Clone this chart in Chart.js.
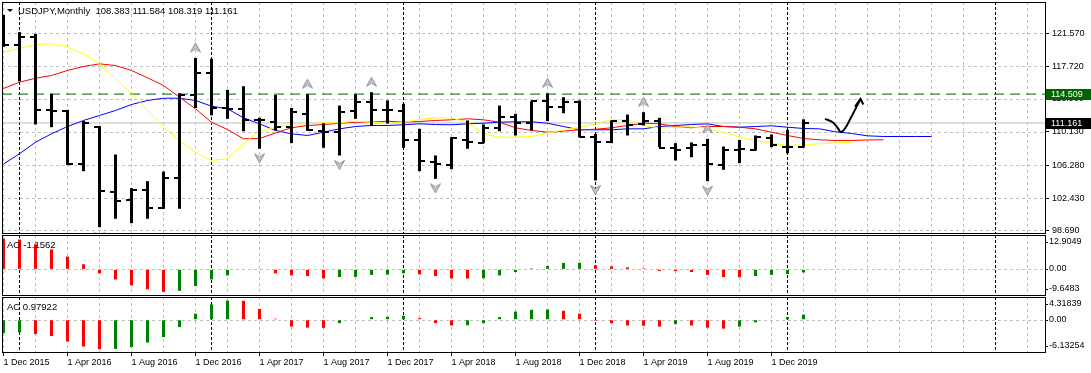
<!DOCTYPE html>
<html>
<head>
<meta charset="utf-8">
<title>USDJPY, Monthly</title>
<script src="https://cdn.jsdelivr.net/npm/chart.js@4.4.1/dist/chart.umd.min.js"></script>
<style>
  body { margin: 0; background: #fff; }
  #wrap { position: relative; width: 1091px; height: 373px; overflow: hidden; }
  canvas { position: absolute; left: 0; }
</style>
</head>
<body>
<div id="wrap">
  <canvas id="main" width="1091" height="234" style="top:0px"></canvas>
  <canvas id="ao" width="1091" height="62" style="top:234px"></canvas>
  <canvas id="ac" width="1091" height="77" style="top:296px"></canvas>
</div>
<script>
// monthly bars, index 0 = Dec 2015 ... 50 = Feb 2020
const opens = [123.08, 120.22, 121.13, 112.68, 112.57, 106.45, 110.75, 103.13, 102.25, 103.33,
  101.30, 104.80, 114.43, 116.98, 112.90, 112.80, 111.56, 111.25, 110.75, 112.20,
  110.20, 110.09, 112.60, 113.57, 112.61, 112.53, 109.20, 106.61, 106.23, 109.24,
  108.82, 110.60, 111.83, 111.13, 113.68, 112.99, 113.57, 109.59, 108.93, 111.37,
  111.00, 111.37, 108.28, 108.28, 108.66, 106.23, 108.05, 108.05, 109.44, 108.43, 108.383]
const highs = [123.69, 121.69, 121.49, 114.55, 112.68, 111.40, 110.80, 107.50, 103.60, 104.41,
  105.53, 114.60, 118.70, 118.60, 115.00, 115.42, 111.76, 114.40, 112.90, 114.50,
  111.13, 113.18, 114.50, 114.73, 113.77, 113.38, 110.48, 107.39, 109.51, 111.45,
  110.98, 113.18, 112.22, 113.68, 114.60, 114.15, 113.77, 109.90, 111.45, 112.13,
  112.41, 111.76, 108.82, 108.90, 109.32, 108.43, 109.20, 109.71, 109.82, 110.37, 111.584]
const lows = [119.99, 115.98, 110.99, 110.67, 106.30, 105.57, 99.07, 100.05, 99.54, 100.05,
  101.21, 101.21, 112.90, 112.05, 111.64, 110.20, 108.17, 110.29, 108.82, 110.25,
  108.28, 107.39, 111.64, 110.80, 111.10, 108.28, 105.57, 104.68, 105.80, 108.17,
  108.82, 110.20, 109.71, 110.29, 111.37, 112.29, 109.51, 104.49, 108.82, 109.71,
  110.87, 108.35, 106.81, 107.19, 104.41, 105.73, 106.50, 107.97, 108.35, 107.65, 108.319]
const closes = [120.22, 121.13, 112.68, 112.57, 106.45, 111.20, 103.25, 102.09, 103.41, 101.32,
  104.80, 114.40, 116.98, 112.90, 112.80, 111.50, 111.45, 110.75, 112.41, 110.30,
  110.09, 112.45, 113.57, 112.61, 112.61, 109.24, 106.73, 106.35, 109.44, 109.00,
  110.60, 111.91, 111.13, 113.68, 112.99, 113.57, 109.59, 108.93, 111.37, 110.87,
  111.37, 108.30, 108.05, 108.66, 106.35, 108.05, 108.17, 109.59, 108.55, 108.43, 111.161]

// Alligator: jaw (blue), teeth (red), lips (yellow), shifted forward past the last bar
const jaw = [106.40, 107.59, 108.93, 109.90, 110.75, 111.45, 112.03, 112.61, 113.30, 113.77,
  114.03, 114.03, 113.77, 113.11, 112.80, 111.76, 111.06, 110.29, 109.90, 109.71,
  110.09, 110.48, 110.75, 110.87, 110.87, 110.95, 111.06, 110.98, 110.95, 111.06,
  111.13, 111.25, 111.30, 111.30, 111.13, 110.75, 110.37, 110.37, 110.37, 110.48,
  110.48, 110.75, 110.87, 110.98, 111.06, 110.75, 110.67, 110.75, 110.83, 110.67,
  110.52, 110.48, 110.14, 109.94, 109.67, 109.59, 109.59, 109.59, 109.59]
const teeth = [115.16, 115.89, 116.35, 116.67, 117.25, 117.71, 118.02, 117.82, 117.25, 116.40,
  115.51, 114.15, 112.80, 111.25, 110.40, 109.33, 109.36, 110.00, 110.60, 110.87,
  110.98, 111.13, 111.25, 111.25, 111.37, 111.25, 111.33, 111.45, 111.53, 111.64,
  111.53, 111.25, 110.60, 110.29, 110.09, 110.21, 110.37, 110.43, 110.60, 110.87,
  111.13, 111.06, 110.75, 110.60, 110.75, 110.75, 110.67, 110.48, 110.09, 109.71,
  109.36, 109.21, 109.13, 109.13, 109.19, 109.21]
const lips = [119.37, 119.80, 120.26, 120.34, 119.95, 119.18, 118.02, 116.32, 114.54, 112.61,
  110.67, 109.13, 107.77, 106.81, 107.01, 108.78, 110.21, 110.64, 111.06, 111.06,
  111.18, 111.18, 111.37, 111.22, 111.13, 111.22, 111.56, 111.76, 111.76, 111.22,
  109.90, 109.51, 109.51, 109.59, 110.00, 110.35, 110.64, 111.06, 111.53, 111.53,
  110.87, 110.55, 110.67, 110.72, 110.54, 110.06, 109.53, 109.13, 108.84, 108.55,
  108.63, 108.75, 108.84, 108.93]

// fractals (bar indices)
const upFractals = [12, 19, 23, 34, 40, 44]
const downFractals = [6, 16, 21, 27, 37, 44]

// Awesome Oscillator and Accelerator/Decelerator
const ao = [11.6, 11.2, 9.4, 7.5, 4.8, 1.9, -1.5, -3.8, -6.0, -7.5,
  -8.5, -8.1, -6.3, -3.8, -2.3, 0.2, 0.25, -1.5, -2.3, -2.5,
  -3.4, -2.9, -2.85, -2.1, -2.0, -1.5, -1.9, -2.5, -3.4, -3.45,
  -3.35, -2.3, -1.0, 0.35, 1.25, 2.4, 2.45, 1.5, 1.1, 0.75,
  0.35, -0.6, -0.65, -1.0, -2.1, -2.9, -2.95, -2.5, -2.1, -1.75, -1.1562]
const ac = [-2.55, -2.4, -2.7, -3.1, -4.15, -5.1, -5.6, -5.55, -5.2, -4.35,
  -3.3, -1.4, 1.15, 2.9, 3.65, 3.6, 2.05, 0.2, -1.3, -1.5,
  -1.55, -0.65, -0.1, 0.5, 0.55, 0.75, 0.3, -0.65, -1.1, -1.05,
  -0.65, 0.5, 1.55, 1.9, 1.95, 1.7, 1.15, -0.2, -0.65, -1.1,
  -1.15, -1.3, -0.85, -1.1, -1.5, -1.7, -1.3, -0.5, 0.1, 0.5, 0.97922]

// hand drawn arrow (month index, price)
const sketchX = [51.34, 51.84, 52.16, 52.34, 52.59, 52.97, 53.56]
const sketchY = [111.64, 111.22, 110.52, 110.11, 110.52, 111.79, 113.94]
const headX = [53.22, 53.56, 53.74]
const headY = [113.07, 113.94, 113.30]

// axes
const dateLabels = ['1 Dec 2015', '1 Apr 2016', '1 Aug 2016', '1 Dec 2016', '1 Apr 2017', '1 Aug 2017',
  '1 Dec 2017', '1 Apr 2018', '1 Aug 2018', '1 Dec 2018', '1 Apr 2019', '1 Aug 2019', '1 Dec 2019']
const priceTicks = [121.570, 117.720, 113.980, 110.130, 106.280, 102.430, 98.690]
const aoTicks = [12.9049, 0, -9.6483]
const acTicks = [4.31839, 0, -6.13254]
const separators = [1, 13, 25, 37, 49, 62]
const resistance = 114.509
const bid = 111.161

const xMin = -0.09375, xMax = 65.09375
const last = opens.length - 1
const months = opens.map((_, i) => i)

Chart.defaults.font.family = '"Liberation Sans", Arial, sans-serif'
Chart.defaults.font.size = 9
Chart.defaults.color = '#000'
const FONT = '"Liberation Sans", Arial, sans-serif'

// little glyphs used as point styles
function glyph(w, h, draw) {
  const c = document.createElement('canvas')
  c.width = w; c.height = h
  draw(c.getContext('2d'))
  return c
}
const openGlyph = glyph(11, 2, g => { g.fillStyle = '#000'; g.fillRect(0, 0, 6, 2) })
const closeGlyph = glyph(11, 2, g => { g.fillStyle = '#000'; g.fillRect(5, 0, 6, 2) })
function arrow(g, up) {
  g.translate(0.5, up ? 0.5 : 20.5)
  g.beginPath()
  if (up) { g.moveTo(5, 0); g.lineTo(10, 9); g.lineTo(5, 6); g.lineTo(0, 9) }
  else { g.moveTo(5, 9); g.lineTo(10, 0); g.lineTo(5, 3); g.lineTo(0, 0) }
  g.closePath()
  g.fillStyle = '#c4c6ce'; g.fill()
  g.strokeStyle = '#8c8e98'; g.lineWidth = 1; g.stroke()
}
const upGlyph = glyph(11, 31, g => arrow(g, true))
const downGlyph = glyph(11, 31, g => arrow(g, false))

const labelFor = v => (v % 4 === 0 && v / 4 < dateLabels.length) ? dateLabels[v / 4] : ''

function timeAxis(withLabels) {
  return {
    type: 'linear', min: xMin, max: xMax, offset: false,
    afterBuildTicks: s => { s.ticks = []; for (let i = 0; i <= 64; i += 2) s.ticks.push({ value: i }) },
    afterFit: s => { s.height = withLabels ? 21 : 0; s.paddingLeft = 0; s.paddingRight = 0 },
    grid: {
      drawOnChartArea: false, offset: false, drawTicks: withLabels, tickLength: 4, tickBorderDash: [],
      tickColor: c => (c.tick && labelFor(c.tick.value)) ? '#000' : 'rgba(0,0,0,0)'
    },
    border: { display: false },
    ticks: {
      display: withLabels, autoSkip: false, maxRotation: 0, minRotation: 0, align: 'start',
      padding: 1, color: '#000', font: { size: 9 }, callback: v => labelFor(v)
    }
  }
}

// dashed grid, year separators and pane frame
const frame = {
  id: 'frame',
  beforeDatasetsDraw(chart) {
    const { ctx, chartArea: a, scales: { x, y } } = chart
    const line = (x1, y1, x2, y2) => { ctx.beginPath(); ctx.moveTo(x1, y1); ctx.lineTo(x2, y2); ctx.stroke() }
    ctx.save()
    ctx.lineWidth = 1
    ctx.strokeStyle = '#c0c0c0'
    ctx.setLineDash([3, 3])
    x.ticks.forEach(t => {
      if (separators.includes(t.value)) return
      const px = Math.floor(x.getPixelForValue(t.value)) + 0.5
      line(px, a.top, px, a.bottom)
    })
    y.ticks.forEach(t => {
      const py = Math.round(y.getPixelForValue(t.value)) + 0.5
      line(a.left, py, a.right, py)
    })
    ctx.strokeStyle = '#000'
    ctx.setLineDash([3, 2])
    separators.forEach(i => {
      const px = Math.floor(x.getPixelForValue(i)) + 0.5
      line(px, a.top, px, a.bottom)
    })
    ctx.restore()
  },
  afterDraw(chart) {
    const { ctx, chartArea: a } = chart
    ctx.save()
    ctx.strokeStyle = '#000'
    ctx.lineWidth = 1
    ctx.strokeRect(a.left + 0.5, a.top + 0.5, a.right - a.left, a.bottom - a.top)
    ctx.restore()
  }
}

const mainText = {
  id: 'mainText',
  afterDraw(chart) {
    const { ctx, chartArea: a, scales: { y } } = chart
    ctx.save()
    ctx.fillStyle = '#000'
    ctx.beginPath(); ctx.moveTo(7, 9); ctx.lineTo(13, 9); ctx.lineTo(10, 12); ctx.closePath(); ctx.fill()
    ctx.font = '9.5px ' + FONT
    ctx.textBaseline = 'middle'
    ctx.fillText('USDJPY,Monthly  ' + [opens[last], highs[last], lows[last], closes[last]].map(v => v.toFixed(3)).join(' '), 18, 11)
    // price tags on the axis
    ctx.font = '9px ' + FONT
    ;[[resistance, '#006400'], [bid, '#000']].forEach(([v, col]) => {
      const py = Math.round(y.getPixelForValue(v))
      ctx.fillStyle = col
      ctx.fillRect(a.right + 1, py - 5, 46, 11)
      ctx.fillStyle = '#fff'
      ctx.fillText(v.toFixed(3), a.right + 6, py + 0.5)
    })
    ctx.restore()
  }
}

function paneText(name, axisTicks) {
  return {
    id: 'paneText',
    afterDraw(chart) {
      const { ctx, chartArea: a, scales: { y } } = chart
      ctx.save()
      ctx.fillStyle = '#000'
      ctx.strokeStyle = '#000'
      ctx.lineWidth = 1
      ctx.textBaseline = 'middle'
      ctx.font = '9px ' + FONT
      axisTicks.forEach(v => {
        const py = Math.round(Math.min(Math.max(y.getPixelForValue(v), a.top + 7), a.bottom - 6))
        ctx.fillText(v === 0 ? '0.00' : String(v), a.right + 4, py)
        ctx.beginPath(); ctx.moveTo(a.right, py + 0.5); ctx.lineTo(a.right + 3, py + 0.5); ctx.stroke()
      })
      ctx.font = '9.5px ' + FONT
      ctx.fillText(name, a.left + 5, a.top + 10)
      ctx.restore()
    }
  }
}

const common = {
  responsive: false, animation: false, events: [], devicePixelRatio: 1,
  plugins: { legend: { display: false }, tooltip: { enabled: false } }
}

const pts = (xs, ys) => xs.map((x, i) => ({ x, y: ys[i] }))
const series = vals => vals.map((v, i) => ({ x: i, y: v }))

new Chart(document.getElementById('main'), {
  type: 'scatter',
  data: {
    datasets: [
      { type: 'line', data: [{ x: xMin, y: bid }, { x: xMax, y: bid }], borderColor: '#c0c0c0', borderWidth: 1, pointRadius: 0, order: 10 },
      { type: 'line', data: [{ x: xMin, y: resistance }, { x: xMax, y: resistance }], borderColor: '#006400', borderWidth: 1, borderDash: [10, 6], pointRadius: 0, order: 9 },
      { type: 'line', data: series(jaw), borderColor: '#0000ff', borderWidth: 1, pointRadius: 0, order: 6 },
      { type: 'line', data: series(teeth), borderColor: '#ff0000', borderWidth: 1, pointRadius: 0, order: 5 },
      { type: 'line', data: series(lips), borderColor: '#ffff00', borderWidth: 1, pointRadius: 0, order: 4 },
      { type: 'bar', data: months.map(i => ({ x: i, y: [lows[i], highs[i]] })), backgroundColor: '#000', borderWidth: 0, barThickness: 3, inflateAmount: 0, order: 1 },
      { data: series(opens), pointStyle: openGlyph, pointRadius: 3, order: 0 },
      { data: series(closes), pointStyle: closeGlyph, pointRadius: 3, order: 0 },
      { data: upFractals.map(i => ({ x: i, y: highs[i] })), pointStyle: upGlyph, pointRadius: 5, order: 2 },
      { data: downFractals.map(i => ({ x: i, y: lows[i] })), pointStyle: downGlyph, pointRadius: 5, order: 2 },
      { type: 'line', data: pts(sketchX, sketchY), borderColor: '#000', borderWidth: 2, tension: 0.4, pointRadius: 0, order: 0 },
      { type: 'line', data: pts(headX, headY), borderColor: '#000', borderWidth: 2, tension: 0, pointRadius: 0, order: 0 }
    ]
  },
  options: {
    ...common,
    layout: { autoPadding: false, padding: { left: 2, top: 2, right: 0, bottom: 1 } },
    scales: {
      x: timeAxis(false),
      y: {
        position: 'right', min: 98.40, max: 125.19,
        afterBuildTicks: s => { s.ticks = priceTicks.map(v => ({ value: v })) },
        afterFit: s => { s.width = 46; s.paddingTop = 0; s.paddingBottom = 0 },
        grid: { drawOnChartArea: false, tickColor: '#000', tickLength: 4, tickBorderDash: [] },
        border: { display: false },
        ticks: { padding: 3, color: '#000', font: { size: 9 }, autoSkip: false, callback: v => v.toFixed(3) }
      }
    }
  },
  plugins: [frame, mainText]
})

const upDown = (vals, first) => vals.map((v, i) => i === 0 ? first : (v > vals[i - 1] ? '#008000' : '#ff0000'))

function pane(id, name, vals, colors, lo, hi, axisTicks, withLabels) {
  return new Chart(document.getElementById(id), {
    type: 'scatter',
    data: {
      datasets: [
        { type: 'bar', data: series(vals), backgroundColor: colors, borderWidth: 0, barThickness: 3, inflateAmount: 0 }
      ]
    },
    options: {
      ...common,
      layout: { autoPadding: false, padding: { left: 2, top: 1, right: 0, bottom: withLabels ? 0 : 1 } },
      scales: {
        x: timeAxis(withLabels),
        y: {
          position: 'right', min: lo, max: hi,
          afterBuildTicks: s => { s.ticks = [{ value: 0 }] },
          afterFit: s => { s.width = 46; s.paddingTop = 0; s.paddingBottom = 0 },
          grid: { drawOnChartArea: false, drawTicks: false },
          border: { display: false },
          ticks: { display: false }
        }
      }
    },
    plugins: [frame, paneText(name, axisTicks)]
  })
}

pane('ao', 'AO ' + ao[last].toFixed(4), ao, upDown(ao, '#ff0000'), aoTicks[2], aoTicks[0], aoTicks, false)
pane('ac', 'AC ' + ac[last].toFixed(5), ac, upDown(ac, '#008000'), acTicks[2], acTicks[0], acTicks, true)
</script>
</body>
</html>
